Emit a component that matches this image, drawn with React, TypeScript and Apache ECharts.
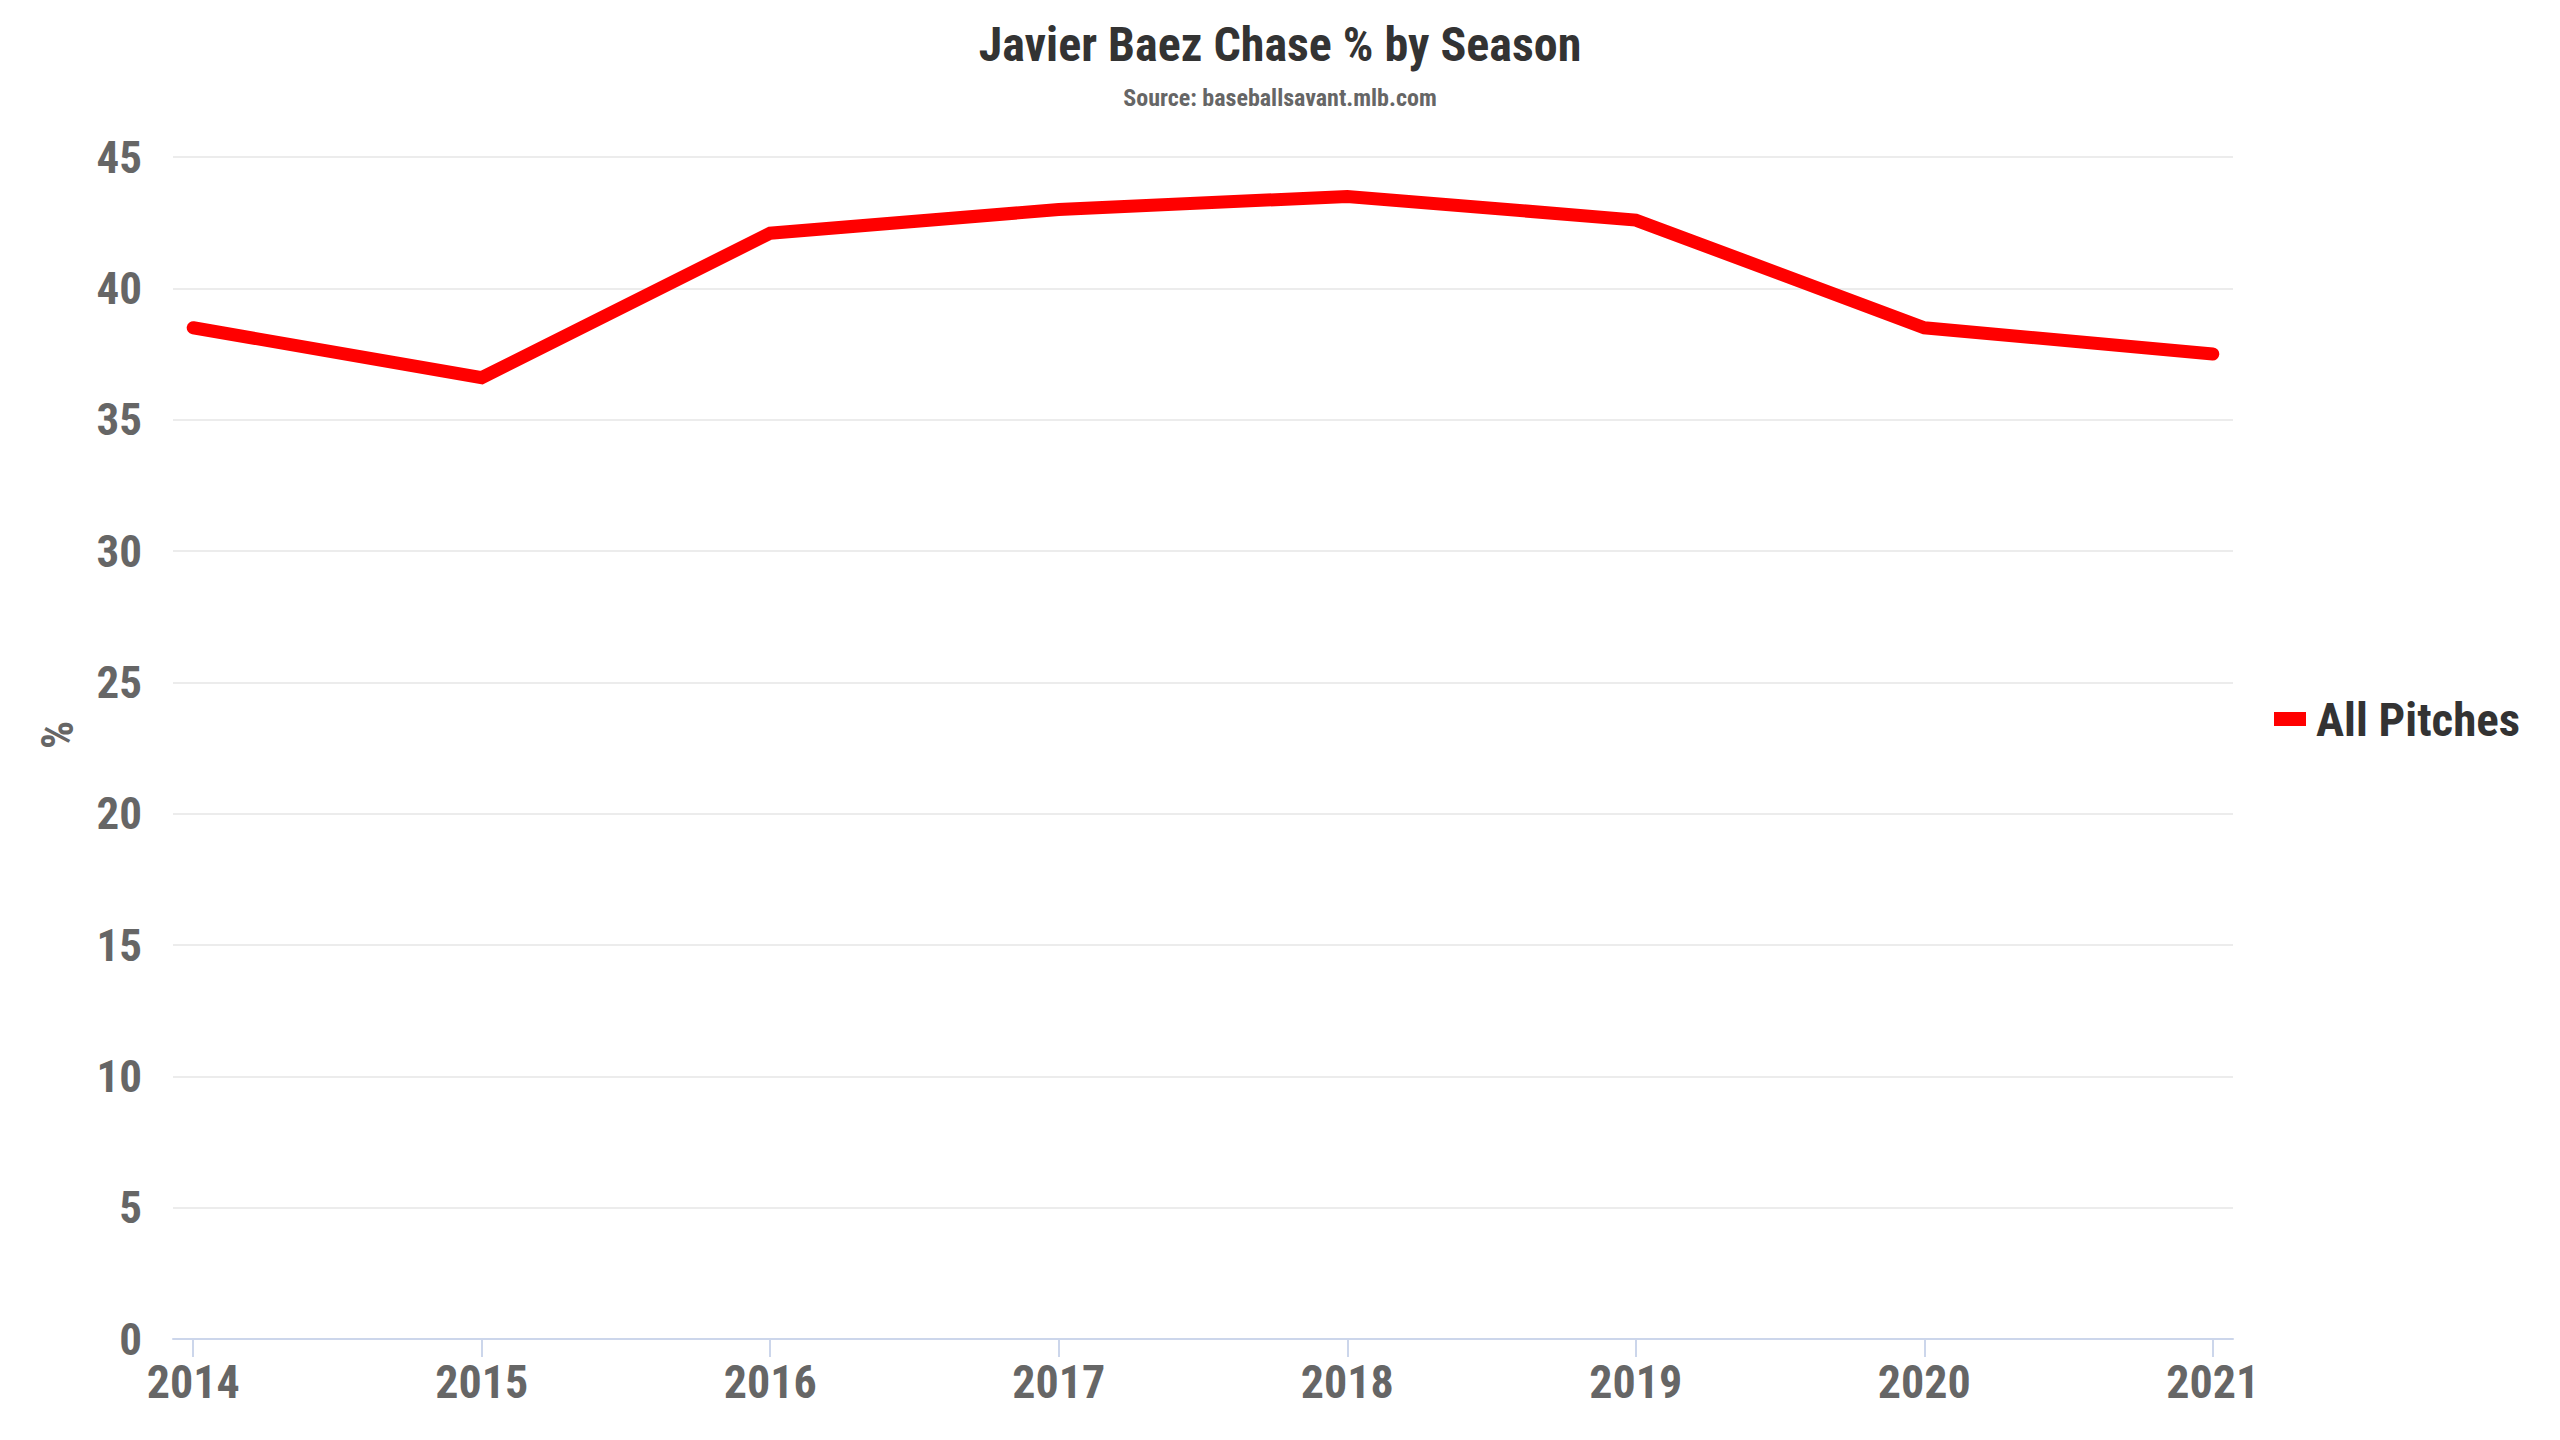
import React, { useEffect, useRef } from "react";
import * as echarts from "echarts";

const years = [2014, 2015, 2016, 2017, 2018, 2019, 2020, 2021];
const chasePct = [38.5, 36.6, 42.1, 43.0, 43.5, 42.6, 38.5, 37.5];
const yTicks = [0, 5, 10, 15, 20, 25, 30, 35, 40, 45];

const titleText = "Javier Baez Chase % by Season";
const subtitleText = "Source: baseballsavant.mlb.com";
const seriesName = "All Pitches";

const FONT = "'Roboto Condensed', 'Liberation Sans Narrow', 'DejaVu Sans Condensed', Roboto, sans-serif";

export default function App() {
  const ref = useRef<HTMLDivElement>(null);
  useEffect(() => {
    if (!ref.current) return;
    const chart = echarts.init(ref.current, undefined, { renderer: "svg" });
    const data = years.map((y, i) => [y, chasePct[i]]);
    chart.setOption({
      animation: false,
      backgroundColor: "#ffffff",
      textStyle: { fontFamily: FONT },
      title: [
        {
          text: titleText,
          left: "center",
          top: 15,
          textStyle: { fontFamily: FONT, fontSize: 48, lineHeight: 48, fontWeight: "bold", color: "#333333" },
        },
        {
          text: subtitleText,
          left: "center",
          top: 81,
          textStyle: { fontFamily: FONT, fontSize: 24, lineHeight: 24, fontWeight: "bold", color: "#666666" },
        },
      ],
      legend: {
        orient: "vertical",
        left: 2269,
        top: 689,
        icon: "rect",
        itemWidth: 32,
        itemHeight: 14,
        data: [seriesName],
        textStyle: {
          fontFamily: FONT,
          fontSize: 47,
          lineHeight: 50,
          fontWeight: "bold",
          color: "#333333",
          padding: [0, 0, 0, 5],
        },
      },
      grid: { left: 173, right: 327, top: 157, bottom: 101, containLabel: false },
      xAxis: {
        type: "value",
        min: 2013.93,
        max: 2021.07,
        axisLine: { show: true, lineStyle: { color: "#ccd6eb", width: 2 } },
        axisTick: { show: true, length: 18, customValues: years, lineStyle: { color: "#ccd6eb", width: 2 } },
        splitLine: { show: false },
        axisLabel: {
          customValues: years,
          formatter: (v: number) => String(Math.round(v)),
          fontFamily: FONT,
          fontSize: 46,
          fontWeight: "bold",
          color: "#666666",
          margin: 20,
        },
      },
      yAxis: {
        type: "value",
        min: yTicks[0],
        max: yTicks[yTicks.length - 1],
        interval: 5,
        name: "%",
        nameLocation: "middle",
        nameGap: 93,
        nameRotate: 90,
        nameTextStyle: {
          fontFamily: FONT,
          fontSize: 44,
          fontWeight: "bold",
          color: "#666666",
          padding: [0, 0, 0, 26],
        },
        axisLine: { show: false },
        axisTick: { show: false },
        splitLine: { show: true, lineStyle: { color: "#e6e6e6", width: 1.5 } },
        axisLabel: {
          fontFamily: FONT,
          fontSize: 45,
          fontWeight: "bold",
          color: "#666666",
          margin: 31,
        },
      },
      series: [
        {
          name: seriesName,
          type: "line",
          data,
          showSymbol: false,
          symbol: "none",
          color: "#ff0000",
          lineStyle: { color: "#ff0000", width: 13, cap: "round", join: "miter" },
        },
      ],
    });
    return () => chart.dispose();
  }, []);
  return (
    <div
      ref={ref}
      style={{ position: "fixed", left: 0, top: 0, width: 2560, height: 1440, background: "#fff" }}
    />
  );
}
